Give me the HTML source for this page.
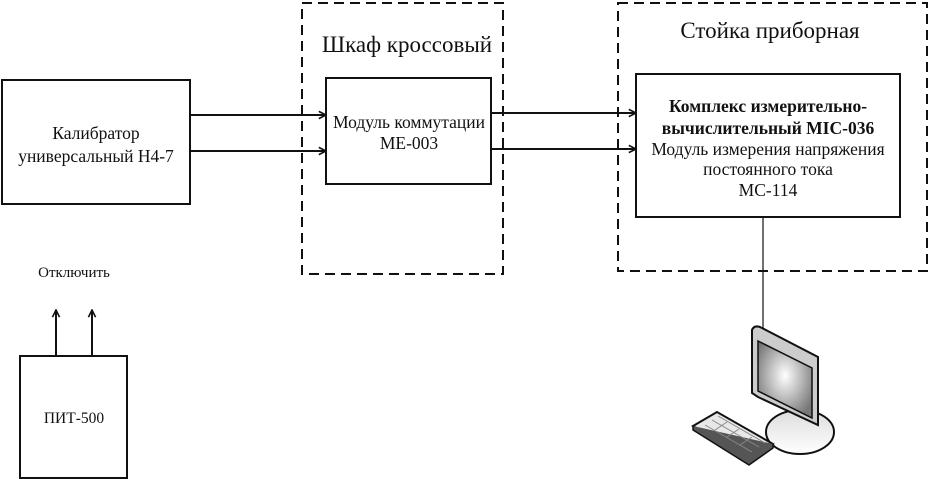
<!DOCTYPE html>
<html><head><meta charset="utf-8"><style>
html,body{margin:0;padding:0;background:#fff;}
svg{display:block;}
text{font-family:"Liberation Serif","Noto Serif CJK SC",serif;fill:#111;}
</style></head><body>
<svg width="929" height="479" viewBox="0 0 929 479" xmlns="http://www.w3.org/2000/svg">
<defs>
<marker id="a" viewBox="0 0 10 10" refX="9" refY="5" markerWidth="9" markerHeight="9" orient="auto" markerUnits="userSpaceOnUse">
<path d="M1,1 L9,5 L1,9" fill="none" stroke="#111" stroke-width="1.8"/></marker>
<radialGradient id="g" cx="0.5" cy="0.45" r="0.6"><stop offset="0" stop-color="#fff"/><stop offset="1" stop-color="#777"/></radialGradient>
<linearGradient id="b" x1="0" y1="0" x2="0" y2="1"><stop offset="0" stop-color="#ddd"/><stop offset="1" stop-color="#fff"/></linearGradient>
</defs>
<g stroke="#111" fill="none" stroke-width="2">
<rect x="302" y="3" width="201" height="271" stroke-dasharray="10,6"/>
<rect x="618" y="3" width="309" height="268" stroke-dasharray="10,6"/>
<rect x="2" y="80" width="188" height="124"/>
<rect x="326" y="78" width="165" height="106"/>
<rect x="636" y="74" width="264" height="143"/>
<rect x="20" y="356" width="107" height="122"/>
<line x1="190" y1="115" x2="326" y2="115" marker-end="url(#a)"/>
<line x1="190" y1="151" x2="326" y2="151" marker-end="url(#a)"/>
<line x1="491" y1="113" x2="636" y2="113" marker-end="url(#a)"/>
<line x1="491" y1="149" x2="636" y2="149" marker-end="url(#a)"/>
<line x1="56" y1="356" x2="56" y2="310" marker-end="url(#a)"/>
<line x1="92" y1="356" x2="92" y2="310" marker-end="url(#a)"/>
<line x1="763" y1="217" x2="763" y2="328" stroke-width="1.2"/>
</g>
<g stroke="#111" stroke-width="2">
<ellipse cx="800" cy="432" rx="34" ry="22" fill="url(#b)"/>
<path d="M752,330 Q754,325 760,327 L818,357 L818,425 L758,397 L752,393 Z" fill="#ccc"/>
<path d="M758,341 L812,368 L812,418 L758,391 Z" fill="url(#g)" stroke-width="1.5"/>
<path d="M693,426 L717,412 L773,444 L749,461 Z" fill="#e8e8e8"/>
<path d="M693,426 L693,430 L749,465 L773,448 L773,444" fill="#555" stroke-width="1.5"/>
</g>
<g stroke="#888" stroke-width="1">
<line x1="705" y1="425" x2="752" y2="452"/><line x1="712" y1="420" x2="759" y2="447"/><line x1="718" y1="416" x2="765" y2="443"/>
<line x1="715" y1="430" x2="727" y2="422"/><line x1="727" y1="437" x2="739" y2="429"/><line x1="740" y1="445" x2="752" y2="437"/>
</g>
<text x="407" y="52" font-size="23" text-anchor="middle">Шкаф кроссовый</text>
<text x="770" y="38" font-size="23" text-anchor="middle">Стойка приборная</text>
<text x="96" y="139" font-size="17.5" text-anchor="middle">Калибратор</text>
<text x="96" y="162" font-size="17.5" text-anchor="middle">универсальный Н4-7</text>
<text x="409" y="128" font-size="17.5" text-anchor="middle">Модуль коммутации</text>
<text x="409" y="149" font-size="17.5" text-anchor="middle">МЕ-003</text>
<text x="768" y="112" font-size="17.5" font-weight="bold" text-anchor="middle">Комплекс измерительно-</text>
<text x="768" y="134" font-size="17.5" font-weight="bold" text-anchor="middle">вычислительный MIC-036</text>
<text x="768" y="155" font-size="17.5" text-anchor="middle">Модуль измерения напряжения</text>
<text x="768" y="175" font-size="17.5" text-anchor="middle">постоянного тока</text>
<text x="768" y="196" font-size="17.5" text-anchor="middle">МС-114</text>
<text x="74" y="277" font-size="15" text-anchor="middle">Отключить</text>
<text x="74" y="423" font-size="15.5" text-anchor="middle">ПИТ-500</text>
</svg>
</body></html>
